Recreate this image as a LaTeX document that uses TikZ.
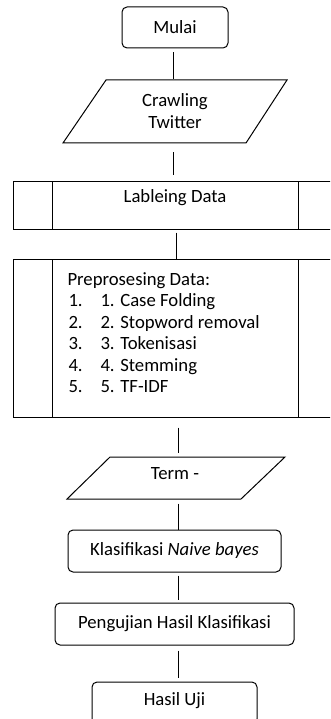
\documentclass[tikz,border=0pt]{standalone}
\usepackage{fontspec}
\setmainfont{Carlito}
\begin{document}
\begin{tikzpicture}[x=1pt,y=-1pt,
  line width=1pt,
  every node/.style={font=\fontsize{18.7}{21.5}\selectfont},
  rbox/.style={draw, rounded corners=5pt, inner sep=0pt},
  pbox/.style={draw, inner sep=0pt},
  ghost/.style={inner sep=0pt},
  txt/.style={inner sep=0pt, align=center},
  conn/.style={draw, line width=1pt}]
\useasboundingbox (0,0) rectangle (330,719);
\clip (0,0) rectangle (330,719);
\fill[white] (0,0) rectangle (330,719);

% Mulai
\node[rbox, minimum width=106pt, minimum height=41pt] (mulai) at (175,27.5) {Mulai};

% Crawling Twitter (parallelogram)
\node[ghost, minimum width=140pt, minimum height=63pt] (crawl) at (175,111.5) {};
\draw (106,80) -- (287,80) -- (246,143) -- (63,143) -- cycle;
\node[txt] (crawltxt) at (175,111) {Crawling\\Twitter};

% Lableing Data (predefined process)
\node[pbox, minimum width=324pt, minimum height=47pt] (lab) at (175,205.5) {};
\draw (52,182) -- (52,229);
\draw (298,182) -- (298,229);
\node[txt] (labtxt) at (175,197.5) {Lableing Data};

% Preprosesing Data (predefined process)
\node[pbox, minimum width=324pt, minimum height=158pt] (pre) at (175,338) {};
\draw (52,259) -- (52,417);
\draw (298,259) -- (298,417);
\node[ghost, anchor=base west] (p0) at (67,285) {Preprosesing Data:};
\foreach \i/\t [count=\k] in {1/Case Folding,2/Stopword removal,3/Tokenisasi,4/Stemming,5/TF-IDF}{
  \node[ghost, anchor=base west] (n\k) at (68,285+21.5*\k) {\i.};
  \node[ghost, anchor=base west] (t\k) at (100,285+21.5*\k) {\i. \t};
}

% Term (parallelogram)
\node[ghost, minimum width=140pt, minimum height=42pt] (term) at (175,478) {};
\draw (110,457) -- (285,457) -- (241,499) -- (67,499) -- cycle;
\node[txt] (termtxt) at (175,474) {Term -};

% Klasifikasi
\node[rbox, minimum width=213pt, minimum height=42pt] (klas) at (174.5,551) {Klasifikasi \textit{Naive bayes}};

% Pengujian
\node[rbox, minimum width=239pt, minimum height=42pt] (uji) at (174.5,624) {Pengujian Hasil Klasifikasi};

% Hasil Uji
\node[rbox, minimum width=165pt, minimum height=42pt] (hasil) at (174.5,703) {};
\node[txt] (hasiltxt) at (174.5,701) {Hasil Uji};

% connectors
\draw[conn] ([xshift=-2pt,yshift=-4pt]mulai.south) -- ([xshift=-2pt]crawl.north);
\draw[conn] ([xshift=-1.5pt,yshift=-9pt]crawl.south) -- ([xshift=-1.5pt,yshift=6pt]lab.north);
\draw[conn] ([xshift=1.5pt,yshift=-3pt]lab.south) -- ([xshift=1.5pt]pre.north);
\draw[conn] ([xshift=3.5pt,yshift=-10pt]pre.south) -- ([xshift=3.5pt,yshift=4pt]term.north);
\draw[conn] ([xshift=3.5pt,yshift=-4pt]term.south) -- ([xshift=4pt]klas.north);
\draw[conn] ([xshift=4pt,yshift=-3pt]klas.south) -- ([xshift=4pt,yshift=3pt]uji.north);
\draw[conn] ([xshift=4pt,yshift=-5pt]uji.south) -- ([xshift=4pt,yshift=4pt]hasil.north);
\end{tikzpicture}
\end{document}
